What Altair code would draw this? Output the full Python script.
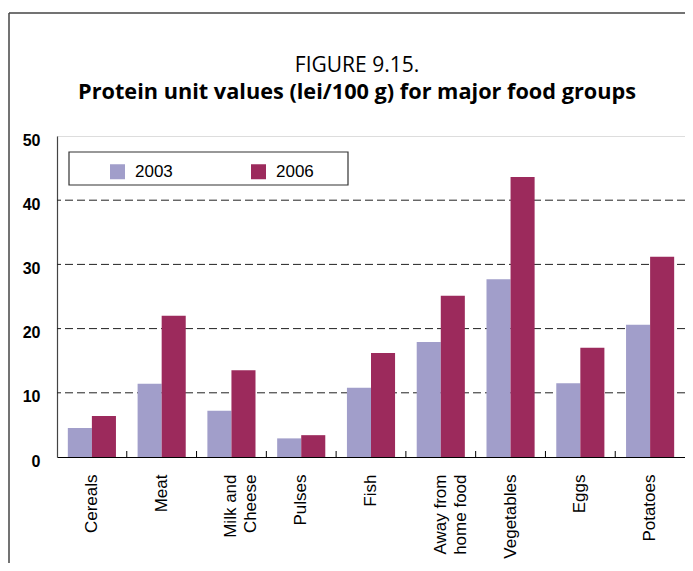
import altair as alt
import pandas as pd

categories = ["Cereals", "Meat", "Milk and|Cheese", "Pulses", "Fish",
              "Away from|home food", "Vegetables", "Eggs", "Potatoes"]
years = ["2003", "2006"]
values_2003 = [4.5, 11.4, 7.2, 2.9, 10.8, 17.9, 27.7, 11.5, 20.6]
values_2006 = [6.4, 22.0, 13.5, 3.4, 16.2, 25.1, 43.6, 17.0, 31.2]
y_ticks = [0, 10, 20, 30, 40, 50]
grid_values = [10, 20, 30, 40]
colors = ["#A19ECA", "#9C2A5C"]
title_text = "FIGURE 9.15."
subtitle_text = "Protein unit values (lei/100 g) for major food groups"

rows = []
for c, a, b in zip(categories, values_2003, values_2006):
    rows.append({"cat": c, "year": "2003", "value": a})
    rows.append({"cat": c, "year": "2006", "value": b})
df = pd.DataFrame(rows)

W, H = 628, 321

xenc = alt.X("cat:N", sort=categories,
             scale=alt.Scale(paddingInner=0, paddingOuter=0),
             axis=alt.Axis(title=None, labelAngle=-90, labelFont="Liberation Sans",
                           labelFontSize=17, labelColor="black", labelPadding=17,
                           ticks=False, domainColor="black", domainWidth=1.2,
                           labelExpr="split(datum.label, '|')", labelLineHeight=20,
                           grid=False))

bars = alt.Chart(df).mark_bar().encode(
    x=xenc,
    xOffset=alt.XOffset("year:N", scale=alt.Scale(paddingOuter=0.45, paddingInner=0)),
    y=alt.Y("value:Q", scale=alt.Scale(domain=[0, 50], nice=False),
            axis=alt.Axis(title=None, values=y_ticks, grid=False, ticks=False,
                          labelFont="Liberation Sans", labelFontWeight="bold",
                          labelFontSize=16, labelColor="black", labelPadding=17,
                          labelOffset=4, domainColor="#444", domainWidth=1.2)),
    color=alt.Color("year:N", scale=alt.Scale(domain=years, range=colors),
                    legend=alt.Legend(title=None, orient="none", legendX=52, legendY=27,
                                      direction="horizontal", symbolType="square",
                                      symbolSize=225, symbolStrokeWidth=0,
                                      labelFont="Liberation Sans", labelFontSize=17,
                                      labelColor="black", columnPadding=77,
                                      labelOffset=9, padding=0)),
)

grid = alt.Chart(pd.DataFrame({"g": grid_values})).mark_rule(
    color="#222", strokeDash=[8, 4], strokeWidth=1
).encode(y=alt.Y("g:Q"))

ticks = alt.Chart(pd.DataFrame({"cat": categories[1:]})).mark_rule(
    color="black", strokeWidth=1
).encode(x=alt.X("cat:N", sort=categories, bandPosition=0),
         y=alt.value(H), y2=alt.value(H - 6))

box = alt.Chart(alt.Data(values=[{"a": 1}])).mark_rect(
    fill="white", stroke="#333", strokeWidth=1.2
).encode(x=alt.value(12), x2=alt.value(291), y=alt.value(16), y2=alt.value(49))

frame_left = alt.Chart(alt.Data(values=[{"a": 1}])).mark_rule(
    color="#444", strokeWidth=1.5
).encode(x=alt.value(-48), y=alt.value(-123), y2=alt.value(H + 110))

frame_top = alt.Chart(alt.Data(values=[{"a": 1}])).mark_rule(
    color="#444", strokeWidth=1.5
).encode(x=alt.value(-48), x2=alt.value(W + 5), y=alt.value(-123))

title1 = alt.Chart(alt.Data(values=[{"t": title_text}])).mark_text(
    font="Open Sans", fontSize=21, fontWeight="normal", color="black",
    align="center", baseline="alphabetic"
).encode(x=alt.value(300), y=alt.value(-64), text="t:N")

title2 = alt.Chart(alt.Data(values=[{"t": subtitle_text}])).mark_text(
    font="Open Sans", fontSize=21.7, fontWeight="bold", color="black",
    align="center", baseline="alphabetic"
).encode(x=alt.value(300), y=alt.value(-37), text="t:N")

chart = alt.layer(grid, bars, ticks, box, frame_left, frame_top, title1, title2).properties(
    width=W, height=H,
    autosize=alt.AutoSizeParams(type="none"),
    padding={"left": 49, "top": 128, "right": 0, "bottom": 106},
).configure_view(stroke="#888", strokeWidth=1).configure(background="white")

chart.save("out.html", embed_options={"renderer": "svg", "actions": False})
